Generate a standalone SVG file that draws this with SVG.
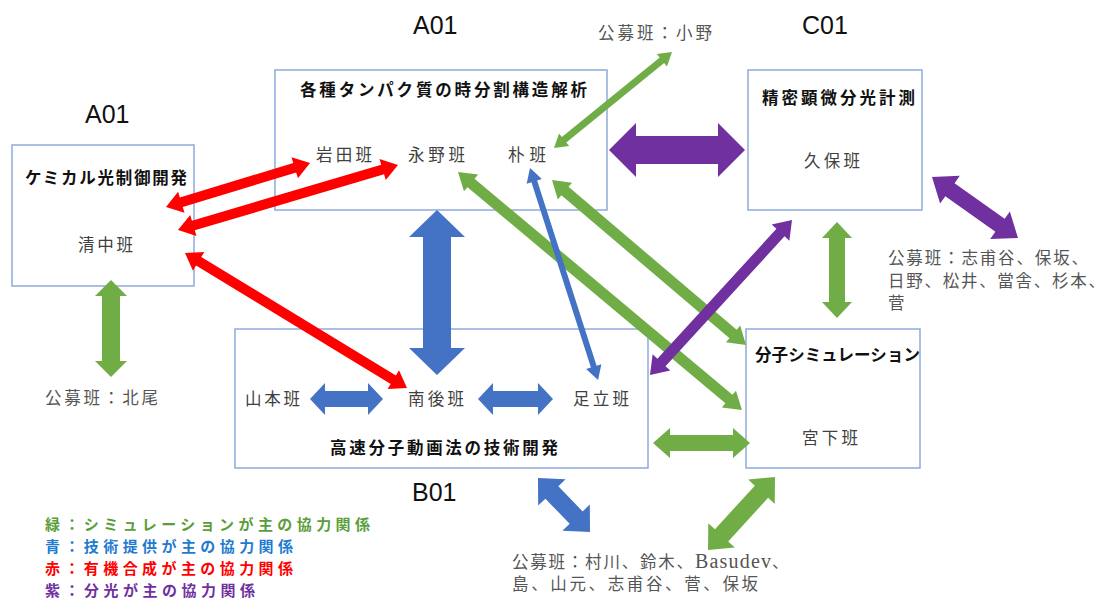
<svg xmlns="http://www.w3.org/2000/svg" width="1112" height="601" viewBox="0 0 1112 601">
<style>
.box{fill:#fff;stroke:#8faadc;stroke-width:1.5}
.hd{font-family:"Liberation Sans","Noto Sans CJK JP",sans-serif;font-size:25px;fill:#111}
.tt{font-family:"Noto Sans CJK JP",sans-serif;font-size:16.5px;font-weight:bold;fill:#111}
.gn{font-family:"Noto Sans CJK JP",sans-serif;font-size:16.5px;fill:#404040}
.ol{font-family:"Liberation Serif","Noto Sans CJK JP",serif;font-size:16.5px;fill:#555}
.lg{font-family:"Noto Sans CJK JP",sans-serif;font-size:15px;font-weight:bold}
.r{fill:#ff0000}.b{fill:#4472c4}.g{fill:#70ad47}.p{fill:#7030a0}
</style>
<rect width="1112" height="601" fill="#fff"/>
<text class="hd" x="85" y="123">A01</text>
<text class="hd" x="413" y="34">A01</text>
<text class="hd" x="802" y="34">C01</text>
<text class="hd" x="412" y="501">B01</text>

<g id="a01-left">
<rect class="box" x="12" y="145" width="182" height="141"/>
<text class="tt" x="25" y="184" textLength="162" lengthAdjust="spacing">ケミカル光制御開発</text>
<text class="gn" x="78" y="251" textLength="55" lengthAdjust="spacing">清中班</text>
</g>
<g id="a01-center">
<rect class="box" x="275" y="70" width="332" height="140"/>
<text class="tt" x="300" y="96" textLength="287" lengthAdjust="spacing">各種タンパク質の時分割構造解析</text>
<text class="gn" x="316" y="161" textLength="56" lengthAdjust="spacing">岩田班</text>
<text class="gn" x="408" y="161" textLength="57" lengthAdjust="spacing">永野班</text>
<text class="gn" x="508" y="161" textLength="38" lengthAdjust="spacing">朴班</text>
</g>
<g id="c01">
<rect class="box" x="748" y="70" width="174" height="140"/>
<text class="tt" x="762" y="104" textLength="153" lengthAdjust="spacing">精密顕微分光計測</text>
<text class="gn" x="804" y="167" textLength="56" lengthAdjust="spacing">久保班</text>
</g>
<g id="b01">
<rect class="box" x="235" y="329" width="413" height="139"/>
<text class="gn" x="245" y="405" textLength="55" lengthAdjust="spacing">山本班</text>
<text class="gn" x="408" y="405" textLength="56" lengthAdjust="spacing">南後班</text>
<text class="gn" x="573" y="405" textLength="56" lengthAdjust="spacing">足立班</text>
<text class="tt" x="330" y="454" textLength="228" lengthAdjust="spacing">高速分子動画法の技術開発</text>
</g>
<g id="sim">
<rect class="box" x="746" y="329" width="174" height="139"/>
<text class="tt" x="755" y="361" textLength="165" lengthAdjust="spacing">分子シミュレーション</text>
<text class="gn" x="802" y="444" textLength="56" lengthAdjust="spacing">宮下班</text>
</g>

<g id="open-labels">
<text class="ol" x="598" y="39" textLength="114" lengthAdjust="spacing">公募班：小野</text>
<text class="ol" x="45" y="404" textLength="113" lengthAdjust="spacing">公募班：北尾</text>
<text class="ol" x="888" y="264" textLength="200" lengthAdjust="spacing">公募班：志甫谷、保坂、</text>
<text class="ol" x="888" y="287" textLength="217" lengthAdjust="spacing">日野、松井、當舎、杉本、</text>
<text class="ol" x="888" y="309">菅</text>
<text class="ol" x="512" y="568"><tspan textLength="181" lengthAdjust="spacing">公募班：村川、鈴木、</tspan><tspan x="695" font-size="20" textLength="76" lengthAdjust="spacing">Basudev</tspan><tspan x="772">、</tspan></text>
<text class="ol" x="512" y="590" textLength="246" lengthAdjust="spacing">島、山元、志甫谷、菅、保坂</text>
</g>

<g id="legend">
<text class="lg" x="45" y="530" fill="#5a9e3a" textLength="325" lengthAdjust="spacing">緑：シミュレーションが主の協力関係</text>
<text class="lg" x="45" y="552" fill="#1f7bd0" textLength="248" lengthAdjust="spacing">青：技術提供が主の協力関係</text>
<text class="lg" x="45" y="574" fill="#ff0000" textLength="248" lengthAdjust="spacing">赤：有機合成が主の協力関係</text>
<text class="lg" x="45" y="596" fill="#7030a0" textLength="210" lengthAdjust="spacing">紫：分光が主の協力関係</text>
</g>

<g id="connectors">
<path class="r" transform="translate(166,207) rotate(-16.99)" d="M0,0 L16,-11 L16,-5 L134.6,-5 L134.6,-11 L150.6,0 L134.6,11 L134.6,5 L16,5 L16,11Z"/>
<path class="r" transform="translate(178,230) rotate(-16.46)" d="M0,0 L16,-11 L16,-5 L213.4,-5 L213.4,-11 L229.4,0 L213.4,11 L213.4,5 L16,5 L16,11Z"/>
<path class="r" transform="translate(185,253) rotate(31.3)" d="M0,0 L16,-11 L16,-5 L243.8,-5 L243.8,-11 L259.8,0 L243.8,11 L243.8,5 L16,5 L16,11Z"/>
<path class="g" transform="translate(111,280) rotate(90)" d="M0,0 L16,-16 L16,-9 L81,-9 L81,-16 L97,0 L81,16 L81,9 L16,9 L16,16Z"/>
<path class="b" transform="translate(437,210) rotate(90)" d="M0,0 L27,-28 L27,-14 L138,-14 L138,-28 L165,0 L138,28 L138,14 L27,14 L27,28Z"/>
<path class="b" transform="translate(310,399)" d="M0,0 L15,-16 L15,-8 L58,-8 L58,-16 L73,0 L58,16 L58,8 L15,8 L15,16Z"/>
<path class="b" transform="translate(478,399)" d="M0,0 L15,-16 L15,-8 L60,-8 L60,-16 L75,0 L60,16 L60,8 L15,8 L15,16Z"/>
<path class="g" transform="translate(458,172) rotate(39.97)" d="M0,0 L17,-11 L17,-5.5 L353.5,-5.5 L353.5,-11 L370.5,0 L353.5,11 L353.5,5.5 L17,5.5 L17,11Z"/>
<path class="b" transform="translate(530,168) rotate(72.2)" d="M0,0 L14,-8 L14,-3 L208.6,-3 L208.6,-8 L222.6,0 L208.6,8 L208.6,3 L14,3 L14,8Z"/>
<path class="g" transform="translate(672,52) rotate(140.87)" d="M0,0 L13,-8 L13,-3.5 L139.1,-3.5 L139.1,-8 L152.1,0 L139.1,8 L139.1,3.5 L13,3.5 L13,8Z"/>
<path class="p" transform="translate(609,150)" d="M0,0 L27,-27 L27,-14 L109,-14 L109,-27 L136,0 L109,27 L109,14 L27,14 L27,27Z"/>
<path class="g" transform="translate(552,180) rotate(40.38)" d="M0,0 L17,-11 L17,-5.5 L237.7,-5.5 L237.7,-11 L254.7,0 L237.7,11 L237.7,5.5 L17,5.5 L17,11Z"/>
<path class="p" transform="translate(792,220) rotate(132.5)" d="M0,0 L17,-12 L17,-5.5 L193.2,-5.5 L193.2,-12 L210.2,0 L193.2,12 L193.2,5.5 L17,5.5 L17,12Z"/>
<path class="p" transform="translate(932,177) rotate(35.35)" d="M0,0 L22,-17 L22,-8 L83.4,-8 L83.4,-17 L105.4,0 L83.4,17 L83.4,8 L22,8 L22,17Z"/>
<path class="g" transform="translate(837,222) rotate(90)" d="M0,0 L16,-15 L16,-8 L80,-8 L80,-15 L96,0 L80,15 L80,8 L16,8 L16,15Z"/>
<path class="g" transform="translate(653,443)" d="M0,0 L17,-15 L17,-8 L80,-8 L80,-15 L97,0 L80,15 L80,8 L17,8 L17,15Z"/>
<path class="b" transform="translate(538,478) rotate(46.1)" d="M0,0 L20,-19 L20,-9 L55,-9 L55,-19 L75,0 L55,19 L55,9 L20,9 L20,19Z"/>
<path class="g" transform="translate(775,477) rotate(132.5)" d="M0,0 L20,-18 L20,-9 L79.1,-9 L79.1,-18 L99.1,0 L79.1,18 L79.1,9 L20,9 L20,18Z"/>
</g>
</svg>
